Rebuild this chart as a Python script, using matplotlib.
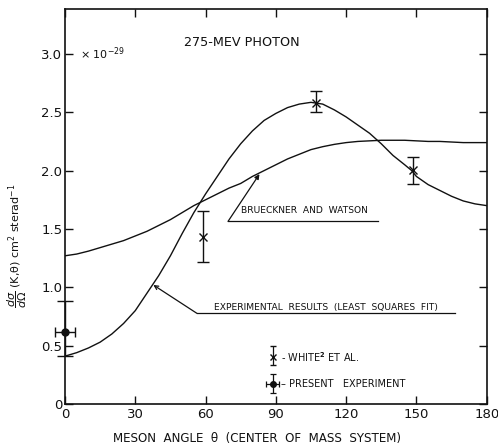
import matplotlib
matplotlib.use("Agg")
import matplotlib.pyplot as plt

# ---------------- data ----------------
theta_fit = [0, 5, 10, 15, 20, 25, 30, 35, 40, 45, 50, 55, 60, 65, 70, 75, 80, 85, 90,
             95, 100, 105, 110, 115, 120, 125, 130, 135, 140, 145, 148, 150, 155, 160, 165,
             170, 175, 180]
exp_fit = [0.41, 0.44, 0.48, 0.53, 0.60, 0.69, 0.80, 0.95, 1.10, 1.27, 1.46, 1.64, 1.80,
           1.95, 2.10, 2.23, 2.34, 2.43, 2.49, 2.54, 2.57, 2.585, 2.57, 2.52, 2.46, 2.39,
           2.32, 2.23, 2.13, 2.05, 2.00, 1.95, 1.88, 1.83, 1.78, 1.74, 1.715, 1.70]
theta_bw = [0, 5, 10, 15, 20, 25, 30, 35, 40, 45, 50, 55, 60, 65, 70, 75, 80, 85, 90,
            95, 100, 105, 110, 115, 120, 125, 130, 135, 140, 145, 150, 155, 160, 165,
            170, 175, 180]
brueckner = [1.27, 1.285, 1.31, 1.34, 1.37, 1.40, 1.44, 1.48, 1.53, 1.58, 1.64, 1.70, 1.75,
             1.80, 1.85, 1.89, 1.95, 2.00, 2.05, 2.10, 2.14, 2.18, 2.205, 2.225, 2.24,
             2.25, 2.255, 2.26, 2.26, 2.26, 2.255, 2.25, 2.25, 2.245, 2.24, 2.24, 2.24]

white_theta = [59, 107, 148.4]
white_val = [1.43, 2.58, 2.005]
white_lo = [1.22, 2.50, 1.885]
white_hi = [1.65, 2.68, 2.12]

present_theta = [0]
present_val = [0.62]
present_lo = [0.41]
present_hi = [0.88]
present_dtheta = [4.2]

x_ticks = [0, 30, 60, 90, 120, 150, 180]
y_ticks = [0, 0.5, 1.0, 1.5, 2.0, 2.5, 3.0]
y_ticklabels = ["0", "0.5", "1.0", "1.5", "2.0", "2.5", "3.0"]

# ---------------- figure ----------------
plt.rcParams['font.family'] = ['DejaVu Sans']
fig = plt.figure(figsize=(4.98, 4.47), dpi=100)
ax = fig.add_axes([0.1305, 0.0962, 0.8468, 0.8837])
ax.set_xlim(0, 180)
ax.set_ylim(0, 3.385)

ink = "#111111"
ax.plot(theta_fit, exp_fit, color=ink, lw=1.0)
ax.plot(theta_bw, brueckner, color=ink, lw=1.0)

# White et al. points
yerr_w = [[v - l for v, l in zip(white_val, white_lo)],
          [h - v for v, h in zip(white_val, white_hi)]]
ax.errorbar(white_theta, white_val, yerr=yerr_w, fmt='x', color=ink, ms=6, mew=1.0,
            elinewidth=1.0, capsize=4.3, capthick=1.0, zorder=5)

# Present experiment
yerr_p = [[v - l for v, l in zip(present_val, present_lo)],
          [h - v for v, h in zip(present_val, present_hi)]]
ax.errorbar(present_theta, present_val, yerr=yerr_p, fmt='none', ecolor=ink,
            elinewidth=1.0, capsize=5.5, capthick=1.0, clip_on=False, zorder=5)
ax.errorbar(present_theta, present_val, xerr=present_dtheta, fmt='o', color=ink, ms=5,
            elinewidth=1.0, capsize=3.5, capthick=1.0, clip_on=False, zorder=6)

# legend (drawn in data coordinates like the original)
ax.errorbar([88.6], [0.40], yerr=[[0.07], [0.10]], fmt='x', color=ink, ms=4.5, mew=1.0,
            elinewidth=0.9, capsize=2.5, capthick=0.9)
ax.errorbar([88.6], [0.17], yerr=[[0.08], [0.09]], fmt='o', color=ink, ms=4,
            elinewidth=0.9, capsize=2.5, capthick=0.9)
ax.errorbar([88.6], [0.17], xerr=[2.7], fmt='none', ecolor=ink,
            elinewidth=0.9, capsize=2.0, capthick=0.9)
ax.text(92.3, 0.40, "- WHITE$^{\\mathbf{2}}$ ET AL.", fontsize=7, va='center', ha='left', color=ink)
ax.text(92.3, 0.17, "\u2013 PRESENT   EXPERIMENT", fontsize=7, va='center', ha='left', color=ink)

# annotations
ax.text(75.5, 3.10, "275-MEV PHOTON", fontsize=9.2, ha='center', va='center', color=ink)
ax.text(6.2, 3.0, "\u00d7 10$^{-29}$", fontsize=8, ha='left', va='center', color=ink)

ax.text(102, 1.66, "BRUECKNER  AND  WATSON", fontsize=6.6, ha='center', va='center', color=ink)
ax.plot([69.6, 133.6], [1.565, 1.565], color=ink, lw=0.9)
ax.annotate("", xy=(83, 1.97), xytext=(69.6, 1.565),
            arrowprops=dict(arrowstyle='-|>', lw=0.9, color=ink, mutation_scale=7, shrinkA=0, shrinkB=0))

ax.text(111.5, 0.83, "EXPERIMENTAL  RESULTS  (LEAST  SQUARES  FIT)", fontsize=6.6,
        ha='center', va='center', color=ink)
ax.plot([56.3, 166.4], [0.777, 0.777], color=ink, lw=0.9)
ax.annotate("", xy=(37.7, 1.02), xytext=(56.3, 0.777),
            arrowprops=dict(arrowstyle='->', lw=0.9, color=ink, mutation_scale=7, shrinkA=0, shrinkB=0))

# axes styling
for s in ax.spines.values():
    s.set_linewidth(1.2)
    s.set_color(ink)
ax.set_xticks(x_ticks)
ax.set_xticklabels([str(t) for t in x_ticks])
ax.set_yticks(y_ticks)
ax.set_yticklabels(y_ticklabels)
ax.tick_params(direction='in', length=6, width=1.0, labelsize=9.5, top=True, right=True,
               colors=ink, pad=3)
ax.tick_params(axis='y', pad=2)

ax.set_xlabel("MESON  ANGLE  \u03b8  (CENTER  OF  MASS  SYSTEM)", fontsize=8.6, color=ink)
ax.xaxis.set_label_coords(0.455, -0.070)
ax.set_ylabel("$\\dfrac{d\\sigma}{d\\Omega}$ (K,\u03b8) cm$^2$ sterad$^{-1}$", fontsize=8.0,
              color=ink)
ax.yaxis.set_label_coords(-0.085, 0.40)

fig.savefig("out.png", dpi=100, facecolor='white')
